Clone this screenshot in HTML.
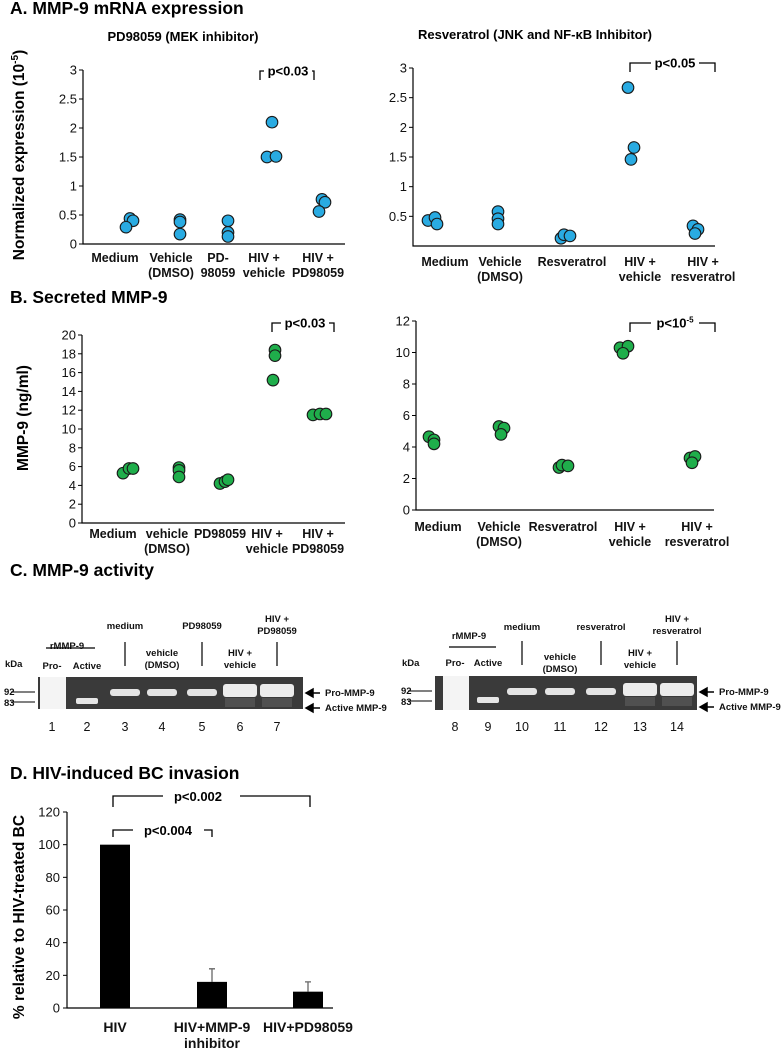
<!DOCTYPE html>
<html><head><meta charset="utf-8">
<style>
html,body{margin:0;padding:0;background:#fff;}
svg{display:block;font-family:"Liberation Sans",Arial,sans-serif;}
.tk{font-size:13px;fill:#111;}
.cat{font-size:12.5px;font-weight:bold;fill:#111;}
.ttl{font-size:17.5px;font-weight:bold;fill:#000;}
.sub{font-size:13px;font-weight:bold;fill:#000;}
.gl{font-size:9.5px;font-weight:bold;fill:#111;}
.num{font-size:12.5px;fill:#111;}
</style></head>
<body>
<svg id="fig" width="783" height="1050" viewBox="0 0 783 1050">
<text class="ttl" x="10" y="14">A. MMP-9 mRNA expression</text>
<text class="sub" x="183" y="41" text-anchor="middle">PD98059 (MEK inhibitor)</text>
<text class="sub" x="535" y="39" text-anchor="middle">Resveratrol (JNK and NF-κB Inhibitor)</text>
<text class="sub" transform="translate(24,155) rotate(-90)" text-anchor="middle" style="font-size:15.5px">Normalized expression (10<tspan dy="-6" font-size="10">-5</tspan><tspan dy="6">)</tspan></text>
<text class="ttl" x="10" y="303">B. Secreted MMP-9</text>
<text class="sub" transform="translate(28,418) rotate(-90)" text-anchor="middle" style="font-size:15.5px">MMP-9 (ng/ml)</text>
<text class="ttl" x="10" y="576">C. MMP-9 activity</text>
<text class="ttl" x="10" y="779">D. HIV-induced BC invasion</text>
<text class="sub" transform="translate(24,917) rotate(-90)" text-anchor="middle" style="font-size:15.5px">% relative to HIV-treated BC</text>
<g id="charts"></g>
<g id="gels"></g>
</svg>
<script>
// ---- Panel A left data ----
const aLeftCats = [["Medium"],["Vehicle","(DMSO)"],["PD-","98059"],["HIV +","vehicle"],["HIV +","PD98059"]];
const aLeftVals = [[0.44,0.40,0.29],[0.42,0.38,0.17],[0.40,0.20,0.13],[2.10,1.50,1.51],[0.77,0.72,0.56]];
const aLeftTicks = [0,0.5,1,1.5,2,2.5,3];
// ---- Panel A right data ----
const aRightCats = [["Medium"],["Vehicle","(DMSO)"],["Resveratrol"],["HIV +","vehicle"],["HIV +","resveratrol"]];
const aRightVals = [[0.43,0.48,0.37],[0.58,0.46,0.37],[0.13,0.19,0.17],[2.67,1.66,1.46],[0.34,0.28,0.21]];
const aRightTicks = [0.5,1,1.5,2,2.5,3];
// ---- Panel B left data ----
const bLeftCats = [["Medium"],["vehicle","(DMSO)"],["PD98059"],["HIV +","vehicle"],["HIV +","PD98059"]];
const bLeftVals = [[5.3,5.8,5.8],[5.9,5.6,4.9],[4.2,4.4,4.6],[18.4,17.8,15.2],[11.5,11.6,11.6]];
const bLeftTicks = [0,2,4,6,8,10,12,14,16,18,20];
// ---- Panel B right data ----
const bRightCats = [["Medium"],["Vehicle","(DMSO)"],["Resveratrol"],["HIV +","vehicle"],["HIV +","resveratrol"]];
const bRightVals = [[4.65,4.45,4.2],[5.3,5.2,4.8],[2.7,2.85,2.8],[10.3,10.4,9.95],[3.3,3.4,3.0]];
const bRightTicks = [0,2,4,6,8,10,12];
// ---- Panel D data ----
const dCats = [["HIV"],["HIV+MMP-9","inhibitor"],["HIV+PD98059"]];
const dVals = [100,16,10];
const dErr = [0,8,6];
const dTicks = [0,20,40,60,80,100,120];

const NS="http://www.w3.org/2000/svg";
const root=document.getElementById('charts');
function mk(tag,attrs,parent){const e=document.createElementNS(NS,tag);for(const k in attrs)e.setAttribute(k,attrs[k]);(parent||root).appendChild(e);return e;}

function scatter(cfg){
  const g=mk('g',{});
  
  
  const y=v=>cfg.y0+(cfg.y1-cfg.y0)*(v-cfg.min)/(cfg.max-cfg.min);
  const ax=mk('path',{d:`M${cfg.x0},${y(cfg.max)}V${cfg.y0}H${cfg.xEnd}`,stroke:'#000','stroke-width':1.2,fill:'none'},g);
  
  
  cfg.ticks.forEach(t=>{
    mk('line',{x1:cfg.x0-4,x2:cfg.x0,y1:y(t),y2:y(t),stroke:'#000'},g);
    const tx=mk('text',{x:cfg.x0-6,y:y(t)+4.5,'text-anchor':'end',class:'tk'},g);
    tx.textContent=t;
    
    
  });
  cfg.cats.forEach((c,i)=>{
    c.forEach((ln,j)=>{
      const tx=mk('text',{x:cfg.labX[i],y:cfg.labY+j*15,'text-anchor':'middle',class:'cat'},g);
      tx.textContent=ln;
      
      
    });
    cfg.vals[i].forEach((v,k)=>{
      const d=mk('circle',{cx:cfg.dotX[i]+cfg.jit[i][k],cy:y(v),r:5.8,fill:cfg.color,stroke:'#1a1a1a','stroke-width':1.1},g);
      
      
    });
  });
  const b=cfg.br;
  const br=mk('path',{d:`M${b.x1},${b.y+9}V${b.y}H${b.tx-24}M${b.tx+24},${b.y}H${b.x2}V${b.y+9}`,stroke:'#000','stroke-width':1.3,fill:'none'},g);
  
  
  const pt=mk('text',{x:b.tx,y:b.y+4.5,'text-anchor':'middle',class:'sub'},g);
  pt.innerHTML=b.label;
  
  
}

scatter({name:'chart-a-pd98059',x0:83,xEnd:345,y0:244,y1:70,min:0,max:3,ticks:aLeftTicks,cats:aLeftCats,vals:aLeftVals,color:'#29abe2',
  dotX:[130,180,228,272,322],jit:[[0,3,-4],[0,0,0],[0,0,0],[0,-5,4],[0,3,-3]],labX:[115,171,218,264,318],labY:262,
  br:{x1:260,x2:314,y:71,tx:288,label:'p&lt;0.03'}});
scatter({name:'chart-a-resveratrol',x0:413,xEnd:715,y0:246,y1:68,min:0,max:3,ticks:aRightTicks,cats:aRightCats,vals:aRightVals,color:'#29abe2',
  dotX:[432,498,565,630,695],jit:[[-4,3,5],[0,0,0],[-4,-1,5],[-2,4,1],[-2,3,0]],labX:[445,500,572,640,703],labY:266,
  br:{x1:630,x2:715,y:63,tx:675,label:'p&lt;0.05'}});
scatter({name:'chart-b-pd98059',x0:82,xEnd:345,y0:523,y1:335,min:0,max:20,ticks:bLeftTicks,cats:bLeftCats,vals:bLeftVals,color:'#1fae4b',
  dotX:[128,179,224,275,320],jit:[[-5,1,5],[0,0,0],[-4,1,4],[0,0,-2],[-7,0,6]],labX:[113,167,220,267,318],labY:538,
  br:{x1:272,x2:334,y:323,tx:305,label:'p&lt;0.03'}});
scatter({name:'chart-b-resveratrol',x0:416,xEnd:714,y0:510,y1:321,min:0,max:12,ticks:bRightTicks,cats:bRightCats,vals:bRightVals,color:'#1fae4b',
  dotX:[432,501,563,624,693],jit:[[-3,2,2],[-2,3,0],[-4,-1,5],[-4,4,-1],[-3,2,-1]],labX:[438,499,563,630,697],labY:531,
  br:{x1:630,x2:715,y:323,tx:675,label:'p&lt;10<tspan dy="-5" font-size="8">-5</tspan>'}});

// ---- Panel D bar chart ----
(function(){
  const g=mk('g',{});
  
  
  const x0=67,xEnd=333,y0=1008,y1=812,max=120;
  const y=v=>y0-(y0-y1)*v/max;
  const cx=[115,212,308];
  const ax=mk('path',{d:`M${x0},${y1}V${y0}H${xEnd}`,stroke:'#000','stroke-width':1.2,fill:'none'},g);
  
  
  dTicks.forEach(t=>{
    mk('line',{x1:x0-4,x2:x0,y1:y(t),y2:y(t),stroke:'#000'},g);
    const tx=mk('text',{x:x0-7,y:y(t)+4.5,'text-anchor':'end',class:'tk'},g);
    tx.textContent=t;
    
    
  });
  dVals.forEach((v,i)=>{
    if(dErr[i]>0){
      mk('path',{d:`M${cx[i]},${y(v)}V${y(v+dErr[i])}M${cx[i]-3},${y(v+dErr[i])}H${cx[i]+3}`,stroke:'#666','stroke-width':1.3,fill:'none'},g);
    }
    const r=mk('rect',{x:cx[i]-15,y:y(v),width:30,height:y0-y(v),fill:'#000'},g);
    
    
    dCats[i].forEach((ln,j)=>{
      const tx=mk('text',{x:cx[i],y:1032+j*16,'text-anchor':'middle',class:'cat',style:'font-size:14px'},g);
      tx.textContent=ln;
      
      
    });
  });
  const b1=mk('path',{d:`M113,807V796H163M240,796H310V807M113,837V830H133M204,830H212V837`,stroke:'#000','stroke-width':1.3,fill:'none'},g);
  
  
  const t1=mk('text',{x:198,y:801,'text-anchor':'middle',class:'sub'},g);t1.textContent='p<0.002';
  
  
  const t2=mk('text',{x:168,y:835,'text-anchor':'middle',class:'sub'},g);t2.textContent='p<0.004';
  
  
})();

// ---- Panel C gels ----
const gelLeftNums=["1","2","3","4","5","6","7"];
const gelRightNums=["8","9","10","11","12","13","14"];
(function(){
  const gg=document.getElementById('gels');
  function gel(o){
    const g=mk('g',{},gg);
    
    
    mk('rect',{x:o.x,y:o.y,width:o.w,height:o.h,fill:'#3a3a3a'},g);
    mk('rect',{x:o.proX-12,y:o.y,width:26,height:o.h,fill:'#f4f4f4'},g);
    mk('rect',{x:o.actX-11,y:o.y+21,width:22,height:6,fill:'#e6e6e6',rx:2},g);
    o.bandX.forEach((bx,i)=>{
      const big=i>=3;
      mk('rect',{x:bx-(big?17:15),y:o.y+(big?7:12),width:big?34:30,height:big?13:7,fill:big?'#ececec':'#e4e4e4',rx:3},g);
      if(big) mk('rect',{x:bx-15,y:o.y+21,width:30,height:9,fill:'#505050'},g);
    });
    o.nums.forEach((n,i)=>{
      const t=mk('text',{x:o.numX[i],y:o.numY,'text-anchor':'middle',class:'num'},g);t.textContent=n;
      
      
    });
    o.labels.forEach(l=>{
      const t=mk('text',{x:l[0],y:l[1],'text-anchor':'middle',class:'gl'},g);t.textContent=l[2];
      
      
    });
    o.vlines.forEach(v=>mk('line',{x1:v,x2:v,y1:o.y-35,y2:o.y-11,stroke:'#000','stroke-width':1.2},g));
    mk('line',{x1:o.proX-6,x2:o.actX+8,y1:o.y-29,y2:o.y-29,stroke:'#000','stroke-width':1.2},g);
    mk('path',{d:`M${o.x-27},${o.y+15}H${o.x-3}M${o.x-27},${o.y+25}H${o.x-3}`,stroke:'#000','stroke-width':1},g);
    [['kDa',o.x-33,o.y-10],['92',o.x-34,o.y+18],['83',o.x-34,o.y+29]].forEach(a=>{
      const t=mk('text',{x:a[1],y:a[2],class:'gl','text-anchor':'start'},g);t.textContent=a[0];
    });
    const ar=mk('path',{d:`M${o.x+o.w+3},${o.y+16}l7,-4v8zM${o.x+o.w+9},${o.y+16}h8M${o.x+o.w+3},${o.y+31}l7,-4v8zM${o.x+o.w+9},${o.y+31}h8`,fill:'#000',stroke:'#000','stroke-width':1.5},g);
    
    
    const p1=mk('text',{x:o.x+o.w+22,y:o.y+19,class:'gl'},g);p1.textContent='Pro-MMP-9';
    const p2=mk('text',{x:o.x+o.w+22,y:o.y+34,class:'gl'},g);p2.textContent='Active MMP-9';
  }
  gel({name:'gel-pd98059',x:38,y:677,w:265,h:32,proX:52,actX:87,bandX:[125,162,202,240,277],
    nums:gelLeftNums,numX:[52,87,125,162,202,240,277],numY:731,vlines:[125,202,277],
    labels:[[67,649,'rMMP-9'],[52,669,'Pro-'],[87,669,'Active'],[125,629,'medium'],[162,656,'vehicle'],[162,668,'(DMSO)'],[202,629,'PD98059'],[240,656,'HIV +'],[240,668,'vehicle'],[277,622,'HIV +'],[277,634,'PD98059']]});
  gel({name:'gel-resveratrol',x:435,y:676,w:262,h:34,proX:455,actX:488,bandX:[522,560,601,640,677],
    nums:gelRightNums,numX:[455,488,522,560,601,640,677],numY:731,vlines:[522,601,677],
    labels:[[469,639,'rMMP-9'],[455,666,'Pro-'],[488,666,'Active'],[522,630,'medium'],[560,660,'vehicle'],[560,672,'(DMSO)'],[601,630,'resveratrol'],[640,656,'HIV +'],[640,668,'vehicle'],[677,622,'HIV +'],[677,634,'resveratrol']]});
})();
</script>
</body></html>
